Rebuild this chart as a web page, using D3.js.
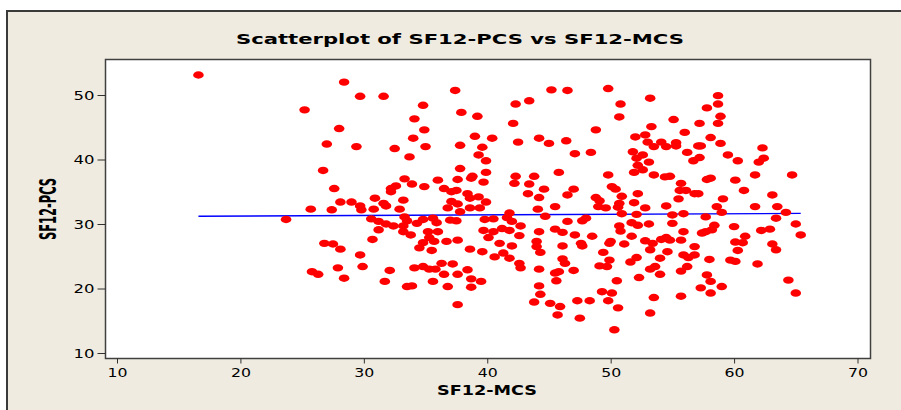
<!DOCTYPE html>
<html><head><meta charset="utf-8">
<script src="https://cdn.jsdelivr.net/npm/d3@7"></script>
<style>html,body{margin:0;padding:0;background:#fff;} svg{display:block;}</style>
</head><body><svg id="c" width="901" height="410"></svg>
<script>
// SF12-MCS (x) and SF12-PCS (y) values
const mcs = [16.6,23.7,25.2,28.4,29.7,31.6,37.4,34.8,37.9,39.2,34.1,28.0,34.9,34.0,39.0,40.4,27.0,29.4,32.5,35.0,
37.8,39.6,33.7,39.3,39.9,26.7,37.8,39.9,33.3,36.0,37.6,38.8,38.7,39.7,27.6,33.9,34.9,32.6,32.2,32.2,
36.5,37.5,37.1,38.4,39.3,30.9,33.2,28.1,29.0,29.7,31.6,31.8,37.1,37.6,38.6,39.9,25.7,27.4,30.8,32.9,
36.8,38.6,39.4,29.8,37.8,30.6,31.2,31.8,32.4,31.2,33.3,33.5,33.2,33.2,33.8,34.3,34.8,35.6,35.9,35.2,
36.0,35.3,34.8,34.5,35.7,35.5,36.7,37.6,37.0,37.5,39.8,39.7,40.1,30.7,26.8,27.5,28.1,29.7,38.6,39.6,
25.8,26.3,27.9,28.4,29.9,31.7,32.1,33.5,33.9,34.1,34.8,35.3,35.8,36.3,37.2,36.5,37.6,38.4,35.6,36.8,
38.7,38.7,39.5,37.6,45.2,46.5,49.8,53.2,42.3,43.4,50.8,50.7,55.1,42.1,53.3,48.8,42.5,44.2,45.0,46.4,
52.0,52.8,53.0,53.5,54.1,54.5,55.3,55.3,47.1,48.4,51.8,52.6,52.1,53.1,52.2,52.6,51.9,53.5,54.4,54.8,
42.3,42.2,43.8,45.8,49.8,43.4,44.6,47.0,46.5,43.3,44.2,50.1,50.4,50.9,50.7,48.8,49.1,49.0,49.6,50.6,
52.2,51.9,52.8,54.5,44.1,45.5,44.7,41.8,41.6,42.0,42.7,40.5,40.5,41.2,41.8,41.0,42.0,42.6,40.6,41.3,
41.8,42.6,42.7,44.2,44.0,44.0,44.3,44.2,45.5,46.1,46.5,47.7,48.0,47.1,48.5,46.1,47.6,47.7,46.1,46.3,
47.0,45.5,45.8,45.6,44.2,44.3,43.8,45.1,45.9,45.7,47.3,48.3,47.5,50.3,49.9,50.0,49.4,49.9,49.1,49.7,
50.5,49.3,50.1,49.8,50.6,50.9,50.7,50.8,51.7,52.2,51.7,51.1,52.1,53.1,52.8,53.4,53.2,54.5,54.8,54.1,
54.6,52.1,51.6,54.0,53.6,53.2,54.0,52.3,53.5,53.2,55.0,55.0,58.7,58.7,57.8,58.9,58.7,57.2,56.0,58.1,
58.9,57.1,57.3,56.2,57.2,56.7,59.5,60.3,62.3,62.4,62.0,57.8,58.1,60.1,61.7,64.7,55.7,55.6,56.1,56.8,
57.1,60.8,55.5,59.1,63.1,58.6,61.7,63.5,55.9,57.7,59.0,64.2,63.4,65.0,65.4,58.4,58.2,57.7,57.4,60.0,
62.2,62.9,55.9,60.9,60.1,60.7,60.3,63.1,63.4,55.7,56.8,55.9,56.3,56.8,58.0,59.7,60.1,61.9,56.2,55.7,
57.8,58.1,59.0,57.3,58.1,55.7,64.4,65.0];
const pcs = [53.1,30.7,47.7,52.0,49.8,49.8,50.7,48.4,47.3,46.7,46.3,44.8,44.6,43.3,43.6,43.3,42.4,42.0,41.7,42.0,
42.2,41.9,40.4,40.7,39.8,38.3,38.6,38.0,37.0,36.8,36.9,37.4,37.1,36.5,35.5,36.2,35.8,35.9,35.5,35.0,
35.5,35.2,35.0,34.7,34.2,34.0,33.7,33.4,33.4,32.8,33.2,32.8,33.5,33.1,34.0,33.4,32.3,32.2,32.3,32.3,
32.5,32.5,32.5,32.2,31.9,30.8,30.4,30.0,29.7,29.1,31.1,30.5,29.7,28.8,28.3,30.1,30.7,30.9,30.2,28.8,
28.8,27.9,27.1,26.3,27.3,25.9,27.3,27.5,30.6,30.5,30.7,29.0,27.9,27.6,27.0,26.9,26.1,25.2,26.1,25.7,
22.6,22.2,23.2,21.6,23.4,21.1,22.8,20.3,20.4,23.2,23.4,23.0,23.0,23.9,23.8,22.2,22.2,22.9,21.1,20.3,
21.5,20.2,21.1,17.5,50.8,50.7,51.0,49.5,48.6,49.1,48.6,46.6,46.2,45.6,45.1,44.6,42.7,43.3,42.5,42.9,
43.5,43.8,42.7,42.0,42.7,42.0,42.6,42.1,40.9,41.1,41.2,40.7,40.2,39.6,39.1,38.4,38.0,37.6,37.3,37.4,
37.4,36.3,37.4,38.0,37.6,36.2,35.4,35.4,34.5,34.7,34.1,35.8,35.4,34.3,33.2,34.1,33.6,32.7,32.5,32.6,
34.7,33.3,32.5,32.8,32.3,32.7,31.2,31.7,31.0,30.4,29.7,30.8,28.8,29.3,29.0,27.0,26.6,28.2,24.9,25.5,
24.7,23.9,23.2,28.8,27.3,26.5,25.6,23.0,29.2,28.7,30.4,30.5,30.9,28.3,28.1,26.6,27.0,26.6,24.6,23.9,
22.8,22.4,22.6,21.2,20.4,19.1,17.9,17.7,17.2,15.9,18.1,18.1,15.4,13.6,27.0,27.3,25.6,24.4,23.5,23.4,
21.2,19.5,19.3,18.1,17.0,31.6,29.7,28.9,30.2,29.8,28.1,26.9,31.5,30.0,27.4,27.0,26.0,27.9,27.5,27.6,
25.7,24.8,24.1,24.7,23.4,23.0,22.2,21.7,18.6,16.2,31.4,30.1,49.9,48.6,48.0,46.7,45.6,45.6,44.2,43.4,
42.5,42.1,42.1,41.1,40.3,39.8,40.7,39.8,41.8,40.2,39.6,36.9,37.1,36.8,37.6,37.6,36.3,35.2,35.2,34.7,
34.7,35.2,33.9,33.9,34.5,32.7,32.7,32.7,31.6,31.1,31.8,31.8,30.9,30.0,28.3,29.8,29.1,28.8,28.6,29.6,
29.0,29.2,28.8,28.1,27.2,27.1,25.9,26.9,26.0,27.5,26.5,25.2,24.8,25.2,24.5,24.4,24.2,23.8,23.4,22.7,
22.1,21.1,20.3,20.1,19.3,18.8,21.3,19.3];
// fitted regression line end points
const fitX = [16.6, 65.4];
const fitY = [31.2, 31.65];
const xTicks = [10, 20, 30, 40, 50, 60, 70];
const yTicks = [10, 20, 30, 40, 50];
const titleText = "Scatterplot of SF12-PCS vs SF12-MCS";
const xTitle = "SF12-MCS";
const yTitle = "SF12-PCS";

const svg = d3.select("#c");
const FONT = "'DejaVu Sans', Verdana, sans-serif";

// outer panel
svg.append("rect").attr("x", 7).attr("y", 11).attr("width", 910).attr("height", 420)
  .attr("fill", "#EFEBE1").attr("stroke", "#3a3a3a").attr("stroke-width", 2);

const PL = 105.5, PR = 870.5, PT = 59.5, PB = 358.5;
const x = d3.scaleLinear().domain([10, 70]).range([117, 857.5]);
const y = d3.scaleLinear().domain([10, 50]).range([353, 95]);

// plot area
svg.append("rect").attr("x", PL).attr("y", PT).attr("width", PR - PL).attr("height", PB - PT)
  .attr("fill", "#fff").attr("stroke", "#404040").attr("stroke-width", 1.5);

// axes
const gx = svg.append("g").attr("transform", `translate(0,${PB})`)
  .call(d3.axisBottom(x).tickValues(xTicks).tickSize(5).tickPadding(4.5).tickSizeOuter(0));
gx.select(".domain").remove();
gx.selectAll(".tick line").attr("stroke", "#303030");
gx.selectAll(".tick text").attr("font-family", FONT).attr("font-size", "12.5px").attr("fill", "#000")
  .attr("textLength", 20).attr("lengthAdjust", "spacingAndGlyphs");

const gy = svg.append("g").attr("transform", `translate(${PL},0)`)
  .call(d3.axisLeft(y).tickValues(yTicks).tickSize(8).tickPadding(3).tickSizeOuter(0));
gy.select(".domain").remove();
gy.selectAll(".tick line").attr("stroke", "#303030");
gy.selectAll(".tick text").attr("font-family", FONT).attr("font-size", "12.5px").attr("fill", "#000")
  .attr("textLength", 21).attr("lengthAdjust", "spacingAndGlyphs");

// fitted line
svg.append("path").datum(fitX.map((v, i) => [v, fitY[i]]))
  .attr("d", d3.line().x(d => x(d[0])).y(d => y(d[1])))
  .attr("fill", "none").attr("stroke", "#0000FF").attr("stroke-width", 1.3);

// points
svg.append("g").selectAll("ellipse").data(mcs.map((v, i) => [v, pcs[i]])).join("ellipse")
  .attr("cx", d => x(d[0])).attr("cy", d => y(d[1]))
  .attr("rx", 5.3).attr("ry", 3.7).attr("fill", "#FF0000");

// titles
svg.append("text").attr("x", 460).attr("y", 44).attr("text-anchor", "middle")
  .attr("font-family", FONT).attr("font-weight", "bold").attr("font-size", "14px")
  .attr("textLength", 448).attr("lengthAdjust", "spacingAndGlyphs").text(titleText);

svg.append("text").attr("x", 487).attr("y", 395).attr("text-anchor", "middle")
  .attr("font-family", FONT).attr("font-weight", "bold").attr("font-size", "13.5px")
  .attr("textLength", 100).attr("lengthAdjust", "spacingAndGlyphs").text(xTitle);

svg.append("text").attr("transform", "translate(48,209) scale(1.5,1) rotate(-90)")
  .attr("text-anchor", "middle").attr("dy", "0.36em")
  .attr("font-family", FONT).attr("font-weight", "bold").attr("font-size", "15px")
  .attr("textLength", 62).attr("lengthAdjust", "spacingAndGlyphs").text(yTitle);
</script></body></html>
